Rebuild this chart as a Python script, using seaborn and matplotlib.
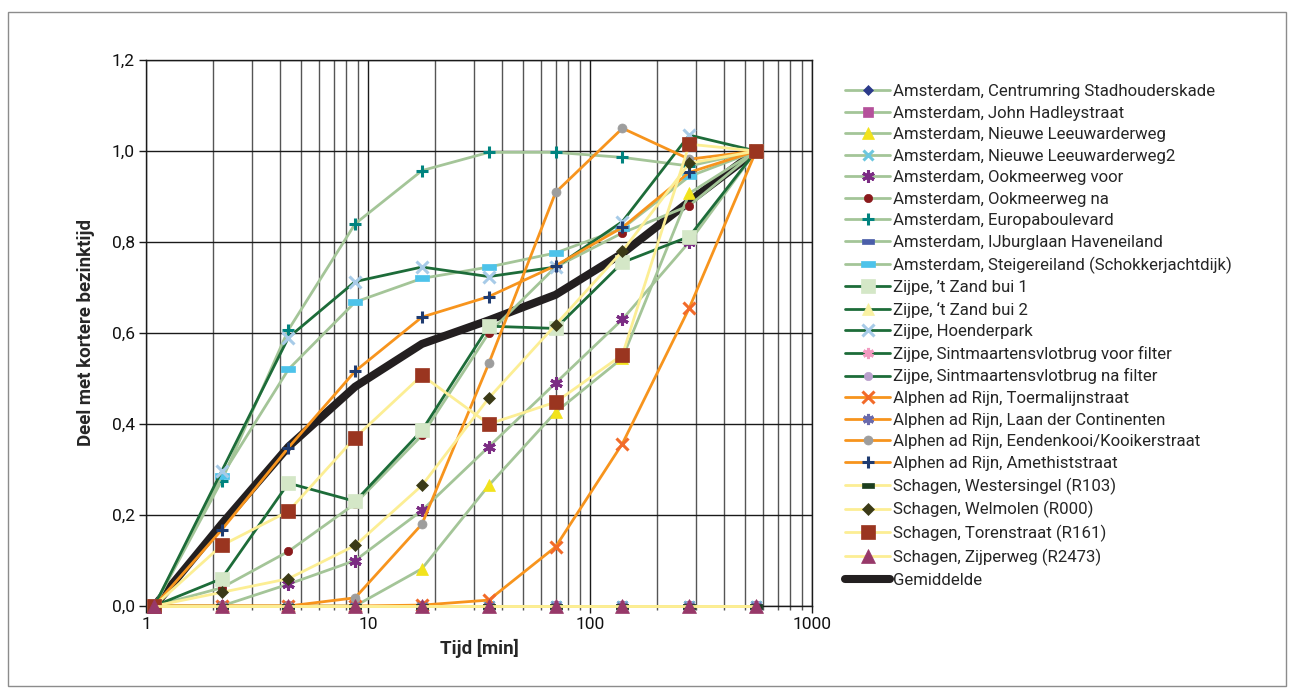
import numpy as np
import pandas as pd
import matplotlib
matplotlib.use("Agg")
import matplotlib.pyplot as plt
import seaborn as sns
from matplotlib.patches import Rectangle
from matplotlib.ticker import FuncFormatter, FixedLocator, NullFormatter
from matplotlib.path import Path

# ---------------- data ----------------
x_time = [1.09, 2.19, 4.38, 8.75, 17.5, 35, 70, 140, 280, 560]

centrumring   = [0, 0, 0, 0, 0, 0, 0, 0, 0, 0]
john_hadley   = [0, 0, 0, 0, 0, 0, 0, 0, 0, 0]
nieuwe_leeuw  = [0, 0, 0, 0, 0.082, 0.265, 0.426, 0.545, 0.907, 1.0]
nieuwe_leeuw2 = [0, 0, 0, 0, 0, 0, 0, 0, 0, 0]
ookmeer_voor  = [0, 0, 0.048, 0.10, 0.21, 0.35, 0.49, 0.63, 0.80, 1.0]
ookmeer_na    = [0, 0.04, 0.12, 0.225, 0.375, 0.60, 0.745, 0.82, 0.88, 1.0]
europa        = [0, 0.275, 0.607, 0.84, 0.957, 0.997, 0.997, 0.986, 0.967, 1.0]
ijburg        = [0, 0, 0, 0, 0, 0, 0, 0, 0, 0]
steiger       = [0, 0.285, 0.52, 0.668, 0.72, 0.745, 0.776, 0.83, 0.944, 1.0]
zand1         = [0, 0.06, 0.27, 0.23, 0.386, 0.615, 0.61, 0.755, 0.812, 1.0]
zand2         = [0, 0, 0, 0, 0, 0, 0, 0, 0, 0]
hoenderpark   = [0, 0.296, 0.59, 0.713, 0.745, 0.724, 0.745, 0.845, 1.035, 1.0]
sint_voor     = [0, 0, 0, 0, 0, 0, 0, 0, 0, 0]
sint_na       = [0, 0, 0, 0, 0, 0, 0, 0, 0, 0]
toermalijn    = [0, 0, 0, 0, 0.002, 0.013, 0.13, 0.357, 0.655, 1.0]
laan_cont     = [0, 0, 0, 0, 0, 0, 0, 0, 0, 0]
eendenkooi    = [0, 0, 0, 0.018, 0.18, 0.533, 0.909, 1.05, 0.982, 1.0]
amethist      = [0, 0.167, 0.348, 0.516, 0.635, 0.68, 0.748, 0.832, 0.953, 1.0]
westersingel  = [0, 0, 0, 0, 0, 0, 0, 0, 0, 0]
welmolen      = [0, 0.03, 0.06, 0.133, 0.265, 0.457, 0.618, 0.78, 0.973, 1.0]
torenstraat   = [0, 0.133, 0.208, 0.37, 0.507, 0.40, 0.448, 0.552, 1.015, 1.0]
zijperweg     = [0, 0, 0, 0, 0, 0, 0, 0, 0, 0]
gemiddelde    = [0, 0.18, 0.35, 0.482, 0.576, 0.628, 0.684, 0.775, 0.889, 1.0]

series_names = [
    "Amsterdam, Centrumring Stadhouderskade",
    "Amsterdam, John Hadleystraat",
    "Amsterdam, Nieuwe Leeuwarderweg",
    "Amsterdam, Nieuwe Leeuwarderweg2",
    "Amsterdam, Ookmeerweg voor",
    "Amsterdam, Ookmeerweg na",
    "Amsterdam, Europaboulevard",
    "Amsterdam, IJburglaan Haveneiland",
    "Amsterdam, Steigereiland (Schokkerjachtdijk)",
    "Zijpe, \u2019t Zand bui 1",
    "Zijpe, \u2018t Zand bui 2",
    "Zijpe, Hoenderpark",
    "Zijpe, Sintmaartensvlotbrug voor filter",
    "Zijpe, Sintmaartensvlotbrug na filter",
    "Alphen ad Rijn, Toermalijnstraat",
    "Alphen ad Rijn, Laan der Continenten",
    "Alphen ad Rijn, Eendenkooi/Kooikerstraat",
    "Alphen ad Rijn, Amethiststraat",
    "Schagen, Westersingel (R103)",
    "Schagen, Welmolen (R000)",
    "Schagen, Torenstraat (R161)",
    "Schagen, Zijperweg (R2473)",
]
series_values = [
    centrumring, john_hadley, nieuwe_leeuw, nieuwe_leeuw2, ookmeer_voor,
    ookmeer_na, europa, ijburg, steiger, zand1, zand2, hoenderpark,
    sint_voor, sint_na, toermalijn, laan_cont, eendenkooi, amethist,
    westersingel, welmolen, torenstraat, zijperweg,
]
mean_name = "Gemiddelde"

# ---------------- styles ----------------
LG = "#a4c598"   # light green
DG = "#1d6c39"   # dark green
OR = "#f7941d"   # orange
YE = "#fcee94"   # pale yellow

bar = Path([(-1, -0.45), (1, -0.45), (1, 0.45), (-1, 0.45), (-1, -0.45)],
           [Path.MOVETO, Path.LINETO, Path.LINETO, Path.LINETO, Path.CLOSEPOLY])
star = (6, 2, 0)

styles = [
    (LG, "D", "#2b3a8a", 5.5),
    (LG, "s", "#b5519b", 7.5),
    (LG, "^", "#f2e31c", 8.5),
    (LG, "x", "#6cc7de", 7),
    (LG, star, "#7b2c83", 9),
    (LG, "o", "#8a1a1c", 6),
    (LG, "+", "#00837f", 9),
    (LG, bar, "#4a5ea9", 8),
    (LG, bar, "#4dc3ea", 10),
    (DG, "s", "#d4e7c7", 9.5),
    (DG, "^", "#f9f1a2", 8.5),
    (DG, "x", "#a7cbe8", 8),
    (DG, star, "#f29bc1", 8),
    (DG, "o", "#b99fcc", 6),
    (OR, "x", "#f26b2a", 8),
    (OR, star, "#6a6aac", 8),
    (OR, "o", "#9d9d9d", 6.5),
    (OR, "+", "#1f3b70", 9),
    (YE, bar, "#1c3f1e", 8),
    (YE, "D", "#3b3a17", 6.5),
    (YE, "s", "#9a3520", 9.5),
    (YE, "^", "#973869", 9.5),
]

sns.set_style("white")
plt.rcParams["font.family"] = ["Roboto", "DejaVu Sans"]

W, H = 1293, 693
fig = plt.figure(figsize=(W / 100, H / 100), dpi=100)
fig.add_artist(Rectangle((8 / W, (H - 686) / H), (1286 - 8) / W, (686 - 12) / H,
                         transform=fig.transFigure, fill=False,
                         edgecolor="#8c8c8c", lw=1.0))

ax_l, ax_r, ax_t, ax_b = 146, 812, 60, 606
ax = fig.add_axes([ax_l / W, (H - ax_b) / H, (ax_r - ax_l) / W, (ax_b - ax_t) / H])

# mean line first (sits below markers)
sns.lineplot(x=x_time, y=gemiddelde, ax=ax, color="#231f20", lw=5.8,
             errorbar=None, zorder=3, solid_joinstyle="miter", clip_on=False)
mean_line = ax.lines[-1]

handles = []
for name, vals, (lc, mk, mc, ms) in zip(series_names, series_values, styles):
    is_line_marker = mk in ("x", "+") or mk == star
    kw = dict(marker=mk, markersize=ms, markerfacecolor=mc, markeredgecolor=mc)
    kw["markeredgewidth"] = 2.2 if is_line_marker else 0.5
    sns.lineplot(x=x_time, y=vals, ax=ax, color=lc, lw=2.0, errorbar=None,
                 zorder=4, clip_on=False, **kw)
    handles.append(ax.lines[-1])
handles.append(mean_line)
labels = series_names + [mean_name]

ax.set_xscale("log")
ax.set_xlim(1, 1000)
ax.set_ylim(0, 1.2)
ax.set_yticks([0, 0.2, 0.4, 0.6, 0.8, 1.0, 1.2])
ax.yaxis.set_major_formatter(FuncFormatter(lambda v, p: f"{v:.1f}".replace(".", ",")))
ax.set_xticks([1, 10, 100, 1000])
ax.set_xticklabels(["1", "10", "100", "1000"])
minors = [m * 10 ** d for d in range(0, 3) for m in range(2, 10)]
ax.xaxis.set_minor_locator(FixedLocator(minors))
ax.xaxis.set_minor_formatter(NullFormatter())

ax.grid(True, which="major", axis="both", color="#1a1a1a", lw=1.0, zorder=0)
ax.grid(True, which="minor", axis="x", color="#555555", lw=1.0, zorder=0)
ax.set_axisbelow(True)
for s in ax.spines.values():
    s.set_color("#1a1a1a")
    s.set_linewidth(1.0)

ax.tick_params(axis="both", which="major", direction="out", length=5, width=1,
               color="#1a1a1a", labelsize=12.5, labelcolor="#111111", pad=3,
               left=True, bottom=True)
ax.tick_params(axis="x", which="minor", direction="out", length=3, width=1,
               color="#555555", bottom=True)

ax.set_xlabel("Tijd [min]", fontsize=13.5, fontweight="bold", labelpad=5)
ax.set_ylabel("Deel met kortere bezinktijd", fontsize=13.5, fontweight="bold",
              labelpad=12)

fig.legend(handles, labels, loc="upper left",
           bbox_to_anchor=(845 / W, (H - 84) / H), frameon=False,
           fontsize=12.1, handlelength=2.68, handletextpad=0.2,
           labelspacing=0.39, borderpad=0, borderaxespad=0, numpoints=1)

fig.savefig("out.png", dpi=100, facecolor="white")
